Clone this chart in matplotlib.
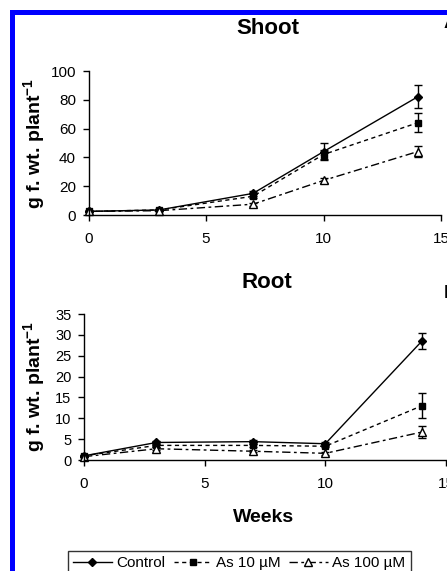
import matplotlib
matplotlib.use("Agg")
import matplotlib.pyplot as plt
from matplotlib.patches import Rectangle
from matplotlib.lines import Line2D

plt.rcParams['font.family'] = ['Liberation Sans', 'DejaVu Sans']
plt.rcParams['mathtext.fontset'] = 'custom'
plt.rcParams['mathtext.rm'] = 'Liberation Sans'
plt.rcParams['mathtext.bf'] = 'Liberation Sans:bold'

# ---- data ----
weeks = [0, 3, 7, 10, 14]
series_names = ["Control", "As 10 \u00b5M", "As 100 \u00b5M"]

shoot_control = [2.5, 3.5, 15, 44, 82]
shoot_control_err = [0.5, 0.5, 1.5, 6, 8]
shoot_as10 = [2.5, 3.5, 13, 42, 64]
shoot_as10_err = [0.5, 0.5, 1.5, 3, 6.5]
shoot_as100 = [2.5, 3, 7.5, 24, 44]
shoot_as100_err = [0.3, 0.3, 1, 2, 4]

root_control = [1.0, 4.2, 4.4, 3.9, 28.5]
root_control_err = [0.2, 0.4, 0.5, 0.5, 2]
root_as10 = [1.0, 3.5, 3.5, 3.3, 13]
root_as10_err = [0.2, 0.3, 0.4, 0.3, 3]
root_as100 = [0.8, 2.7, 2.1, 1.6, 6.7]
root_as100_err = [0.2, 0.3, 0.3, 0.3, 1.5]

shoot_yticks = [0, 20, 40, 60, 80, 100]
root_yticks = [0, 5, 10, 15, 20, 25, 30, 35]
xticks = [0, 5, 10, 15]

W, H = 447, 571
fig = plt.figure(figsize=(W / 100, H / 100), dpi=100)
fig.patch.set_facecolor('white')

styles = [
    dict(marker='D', ms=4.5, mfc='black', ls='-'),
    dict(marker='s', ms=5, mfc='black', ls=(0, (3, 2.5))),
    dict(marker='^', ms=6, mfc='white', ls=(0, (6, 2.5, 2, 2.5))),
]


def make_axes(rect, data, errs, ymax, yticks, ytick_fs):
    ax = fig.add_axes(rect)
    ax.set_facecolor('none')
    for vals, err, st in zip(data, errs, styles):
        ax.errorbar(weeks, vals, yerr=err, color='black', lw=1.0,
                    elinewidth=1.0, capsize=3, capthick=1.0,
                    marker=st['marker'], ms=st['ms'], mfc=st['mfc'],
                    mec='black', mew=1.0, ls=st['ls'], clip_on=False)
    ax.set_xlim(0, 15)
    ax.set_ylim(0, ymax)
    ax.set_xticks(xticks)
    ax.set_yticks(yticks)
    for s in ['top', 'right']:
        ax.spines[s].set_visible(False)
    for s in ['left', 'bottom']:
        ax.spines[s].set_linewidth(1.0)
    ax.tick_params(axis='x', direction='out', length=4, width=1, pad=8, labelsize=11)
    ax.tick_params(axis='y', direction='out', length=4, width=1, pad=5, labelsize=ytick_fs)
    return ax


def px(x0, y_top, x1, y_bot):
    return [x0 / W, 1 - y_bot / H, (x1 - x0) / W, (y_bot - y_top) / H]


ax1 = make_axes(px(88.5, 71, 441, 215),
                [shoot_control, shoot_as10, shoot_as100],
                [shoot_control_err, shoot_as10_err, shoot_as100_err],
                100, shoot_yticks, 11)
ax2 = make_axes(px(84, 314, 446, 460),
                [root_control, root_as10, root_as100],
                [root_control_err, root_as10_err, root_as100_err],
                35, root_yticks, 10.5)

ylab = r'g f. wt. plant$^{\mathbf{-1}}$'
fig.text(35 / W, 1 - 143 / H, ylab, rotation=90, ha='center', va='center',
         fontsize=14, fontweight='bold')
fig.text(35 / W, 1 - 386 / H, ylab, rotation=90, ha='center', va='center',
         fontsize=14, fontweight='bold')

fig.text(268 / W, 1 - 28 / H, 'Shoot', ha='center', va='center', fontsize=16, fontweight='bold')
fig.text(267 / W, 1 - 282 / H, 'Root', ha='center', va='center', fontsize=16, fontweight='bold')
fig.text(264 / W, 1 - 517 / H, 'Weeks', ha='center', va='center', fontsize=14, fontweight='bold')
fig.text(444 / W, 1 - 24 / H, 'A', ha='left', va='center', fontsize=14, fontweight='bold')
fig.text(444 / W, 1 - 293 / H, 'B', ha='left', va='center', fontsize=14, fontweight='bold')

handles = [Line2D([], [], color='black', lw=1.0, marker=st['marker'],
                  ms=st['ms'], mfc=st['mfc'], mec='black', mew=1.0, ls=st['ls'])
           for st in styles]
leg = fig.legend(handles, series_names, loc='upper left',
                 bbox_to_anchor=(68 / W, 1 - 551 / H), ncol=3, fontsize=11,
                 frameon=True, fancybox=False, borderaxespad=0, borderpad=0.35,
                 handlelength=2.5, handletextpad=0.3, columnspacing=0.55)
leg.get_frame().set_edgecolor('black')
leg.get_frame().set_linewidth(1.0)

# blue frame (top and left edges)
fig.add_artist(Rectangle((10 / W, 1 - 15 / H), (W - 10) / W, 5 / H,
                         transform=fig.transFigure, color='#0000ff', lw=0))
fig.add_artist(Rectangle((10 / W, 0), 5 / W, 1 - 10 / H,
                         transform=fig.transFigure, color='#0000ff', lw=0))

fig.savefig('out.png', dpi=100)
